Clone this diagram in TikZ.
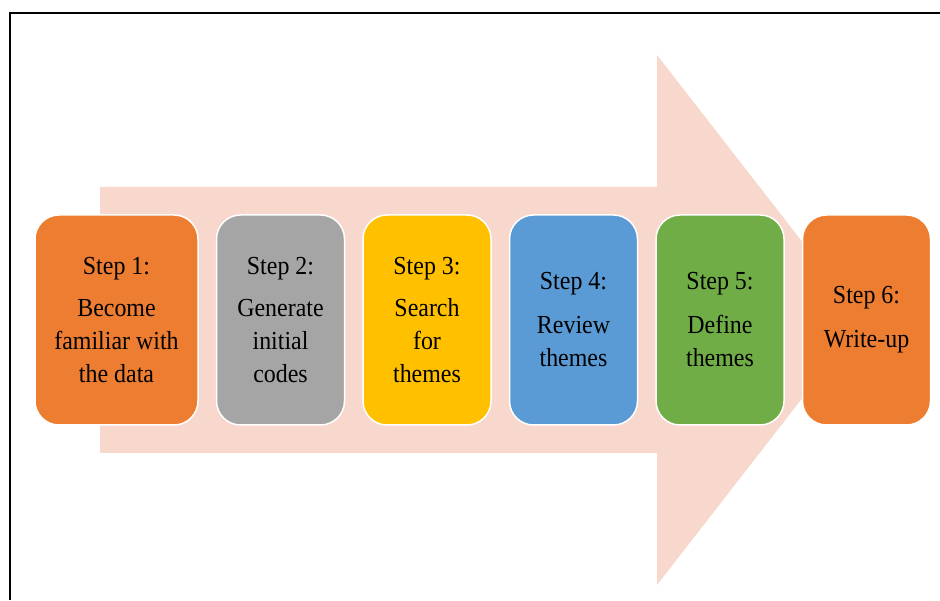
\documentclass[tikz,border=0pt]{standalone}
\usepackage{fontspec}
\setmainfont{Liberation Serif}[FakeStretch=0.92]
\usetikzlibrary{positioning}
\definecolor{arr}{RGB}{248, 216, 205}
\definecolor{org}{RGB}{237, 125, 49}
\definecolor{gry}{RGB}{165, 165, 165}
\definecolor{gld}{RGB}{255, 192, 0}
\definecolor{blu}{RGB}{91, 155, 213}
\definecolor{grn}{RGB}{112, 173, 71}

\begin{document}
\begin{tikzpicture}[x=1pt, y=1pt, node distance=17pt,
    stepbox/.style={rounded corners=24pt, draw=white, line width=1.5pt,
      minimum width=128pt, minimum height=210pt, inner sep=2pt,
      align=center, font=\fontsize{26}{33}\selectfont}]
      \useasboundingbox (0, 0) rectangle (940, 600);
      % frame
      \draw[line width=2pt] (10, 0)--(10, 587)--(940, 587);
      % big arrow
      \fill[color=arr] (100, 147)--(657, 147)--(657, 15)--(863, 280)--(657, 545)--(657, 413)--(100, 413)--cycle;
      % steps
      \node[stepbox, fill=org, minimum width=163pt] (s1) at (116.5, 280) {Step 1:\\[9pt]Become\\familiar with\\the data};
      \node[stepbox, fill=gry, right=of s1] (s2) {Step 2:\\[9pt]Generate\\initial\\codes};
      \node[stepbox, fill=gld, right=of s2] (s3) {Step 3:\\[9pt]Search\\for\\themes};
      \node[stepbox, fill=blu, right=of s3] (s4) {Step 4:\\[11pt]Review\\themes};
      \node[stepbox, fill=grn, right=of s4] (s5) {Step 5:\\[11pt]Define\\themes};
      \node[stepbox, fill=org, right=of s5] (s6) {Step 6:\\[11pt]Write-up};
    \end{tikzpicture}
\end{document}
